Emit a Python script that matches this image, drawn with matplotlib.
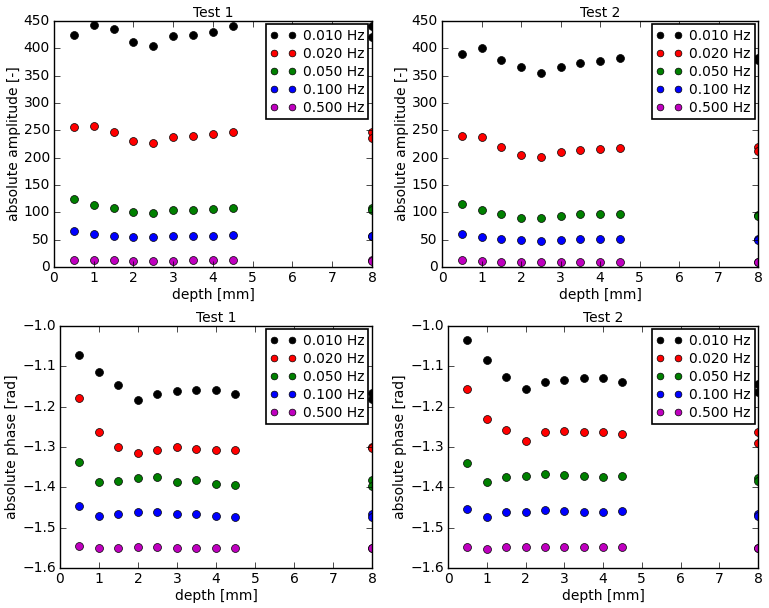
import matplotlib
matplotlib.use("Agg")
import matplotlib.pyplot as plt

plt.style.use("classic")
plt.rcParams["figure.facecolor"] = "white"
plt.rcParams["savefig.facecolor"] = "white"
plt.rcParams["font.size"] = 10

# depths: eight profile points plus repeated readings at 8 mm
depth = [0.5, 1.0, 1.5, 2.0, 2.5, 3.0, 3.5, 4.0, 4.5, 8.0, 8.0]

freq_labels = ["0.010 Hz", "0.020 Hz", "0.050 Hz", "0.100 Hz", "0.500 Hz"]
freq_colors = ["k", "r", "g", "b", "m"]

# absolute amplitude, test 1
amp_t1 = [
    [424, 443, 435, 411, 404, 423, 424, 430, 440, 441, 420],
    [256, 258, 246, 230, 227, 238, 240, 243, 246, 247, 236],
    [124, 114, 107, 101, 99, 104, 104, 106, 108, 107, 104],
    [65, 60, 57, 54, 54, 56, 57, 57, 58, 57, 56],
    [13, 12, 12, 11, 11, 11, 12, 12, 12, 12, 11],
]
# absolute amplitude, test 2
amp_t2 = [
    [389, 400, 379, 365, 354, 366, 374, 376, 383, 382, 378],
    [240, 237, 220, 205, 201, 210, 214, 216, 218, 220, 213],
    [116, 105, 96, 90, 90, 93, 96, 96, 96, 95, 94],
    [61, 55, 51, 49, 48, 50, 51, 51, 51, 51, 50],
    [12, 11, 10, 10, 10, 10, 10, 10, 10, 10, 10],
]
# absolute phase, test 1
phase_t1 = [
    [-1.072, -1.113, -1.147, -1.183, -1.169, -1.162, -1.158, -1.158, -1.169, -1.167, -1.180],
    [-1.178, -1.263, -1.300, -1.314, -1.307, -1.301, -1.305, -1.308, -1.307, -1.299, -1.303],
    [-1.336, -1.387, -1.385, -1.377, -1.374, -1.387, -1.383, -1.392, -1.394, -1.383, -1.396],
    [-1.447, -1.471, -1.466, -1.461, -1.460, -1.467, -1.466, -1.470, -1.473, -1.465, -1.473],
    [-1.546, -1.551, -1.550, -1.549, -1.549, -1.550, -1.550, -1.551, -1.551, -1.550, -1.550],
]
# absolute phase, test 2
phase_t2 = [
    [-1.035, -1.085, -1.127, -1.157, -1.138, -1.135, -1.130, -1.128, -1.139, -1.143, -1.163],
    [-1.155, -1.231, -1.258, -1.286, -1.264, -1.260, -1.264, -1.263, -1.269, -1.263, -1.290],
    [-1.339, -1.388, -1.375, -1.373, -1.366, -1.370, -1.372, -1.375, -1.373, -1.378, -1.385],
    [-1.454, -1.474, -1.462, -1.462, -1.457, -1.459, -1.460, -1.461, -1.459, -1.465, -1.471],
    [-1.548, -1.552, -1.548, -1.548, -1.547, -1.548, -1.548, -1.549, -1.548, -1.550, -1.550],
]

panels = [
    (amp_t1, "Test 1", "absolute amplitude [-]", (0, 450)),
    (amp_t2, "Test 2", "absolute amplitude [-]", (0, 450)),
    (phase_t1, "Test 1", "absolute phase [rad]", (-1.6, -1.0)),
    (phase_t2, "Test 2", "absolute phase [rad]", (-1.6, -1.0)),
]

# axes boxes [left, bottom, width, height] in figure fractions
boxes = [
    [0.0702, 0.5609, 0.4135, 0.4046],
    [0.5748, 0.5609, 0.4109, 0.4046],
    [0.0780, 0.0658, 0.4057, 0.3980],
    [0.5826, 0.0658, 0.4031, 0.3980],
]

fig = plt.figure(figsize=(7.69, 6.08), dpi=100)
for box, (series, title, ylabel, ylim) in zip(boxes, panels):
    ax = fig.add_axes(box)
    for values, color, label in zip(series, freq_colors, freq_labels):
        ax.plot(depth, values, "o", color=color, markeredgecolor="k",
                markersize=5.7, label=label)
    ax.set_xlim(0, 8)
    ax.set_ylim(*ylim)
    ax.set_title(title, fontsize=10, pad=3)
    ax.set_xlabel("depth [mm]", labelpad=2)
    ax.set_ylabel(ylabel, labelpad=2)
    ax.tick_params(labelsize=10, pad=3)
    leg = ax.legend(loc="upper right", numpoints=2, fontsize=10, markerscale=0.85,
                    handlelength=1.85, handletextpad=0.5, labelspacing=0.3,
                    borderpad=0.3, borderaxespad=0.25)
    leg.get_frame().set_linewidth(1.2)

fig.savefig("out.png", dpi=100)
